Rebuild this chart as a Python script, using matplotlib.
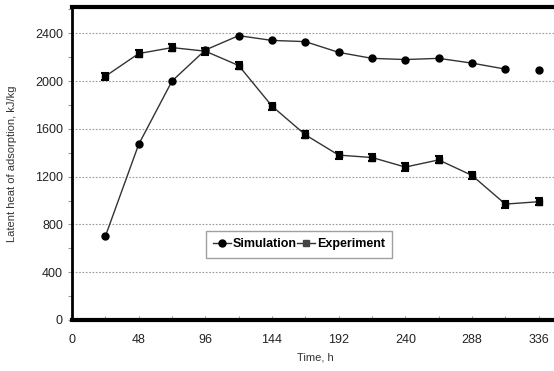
import matplotlib
matplotlib.use("Agg")
import matplotlib.pyplot as plt
from matplotlib.ticker import MultipleLocator

plt.rcParams['font.family'] = ['Liberation Sans', 'DejaVu Sans']

# Time points (h)
time_h = [24, 48, 72, 96, 120, 144, 168, 192, 216, 240, 264, 288, 312, 336]

# Latent heat of adsorption (kJ/kg)
simulation = [700, 1470, 2000, 2260, 2380, 2340, 2330, 2240, 2190, 2180, 2190, 2150, 2100, 2090]
experiment = [2040, 2230, 2280, 2250, 2130, 1790, 1550, 1380, 1360, 1280, 1340, 1210, 970, 990]
experiment_err = [30, 30, 30, 30, 30, 30, 30, 30, 30, 30, 30, 30, 30, 30]

xticks = [0, 48, 96, 144, 192, 240, 288, 336]
yticks = [0, 400, 800, 1200, 1600, 2000, 2400]

fig = plt.figure(figsize=(5.54, 3.71), dpi=100)
ax = fig.add_axes([0.130, 0.1375, 0.9025, 0.8437])

ax.set_xlim(0, 360)
ax.set_ylim(0, 2620)

for y in yticks[1:]:
    ax.axhline(y, color='#999999', lw=0.8, ls=(0, (1.5, 1.5)), zorder=0)

# Simulation curve (line ends before final point)
ax.plot(time_h[:-1], simulation[:-1], color='#333333', lw=1.0, zorder=2)
ax.plot(time_h, simulation, ls='none', marker='o', ms=5.0, color='black', zorder=3)
sim_handle, = ax.plot([], [], color='#333333', lw=1.0, marker='o', ms=5.0, mfc='black', mec='black')

# Experimental curve with error bars
ax.errorbar(time_h, experiment, yerr=experiment_err, color='#333333', lw=1.0,
            marker='s', ms=4.0, mfc='black', mec='black', ecolor='black',
            elinewidth=1.2, capsize=3, capthick=1.5, zorder=3)
exp_handle, = ax.plot([], [], color='#333333', lw=1.0, marker='s', ms=4.5, mfc='#444444', mec='#444444')

ax.set_xticks(xticks)
ax.set_yticks(yticks)
ax.xaxis.set_minor_locator(MultipleLocator(24))
ax.yaxis.set_minor_locator(MultipleLocator(200))
ax.tick_params(axis='x', which='both', direction='in', length=3, width=0.8,
               labelsize=9, pad=10, colors='#999999', labelcolor='#222222')
ax.tick_params(axis='y', which='both', direction='out', length=3, width=0.8,
               labelsize=9, colors='#999999', labelcolor='#222222')

ax.spines['top'].set_linewidth(3.0)
ax.spines['bottom'].set_linewidth(3.0)
ax.spines['left'].set_linewidth(2.0)
ax.spines['right'].set_visible(False)

ax.set_xlabel('Time, h', fontsize=8, color='#333333')
ax.xaxis.set_label_coords(0.486, -0.105)
ax.set_ylabel('Latent heat of adsorption, kJ/kg', fontsize=8, color='#333333')
ax.yaxis.set_label_coords(-0.11, 0.5)

leg = ax.legend([sim_handle, exp_handle], ['Simulation', 'Experiment'], ncol=2,
                loc='upper left', bbox_to_anchor=(0.255, 0.305),
                frameon=True, fancybox=False, borderpad=0.6, handlelength=1.4,
                handletextpad=0.15, columnspacing=0.05, prop={'weight': 'bold', 'size': 9})
leg.get_frame().set_edgecolor('#888888')
leg.get_frame().set_linewidth(1.0)

fig.savefig('out.png', dpi=100)
